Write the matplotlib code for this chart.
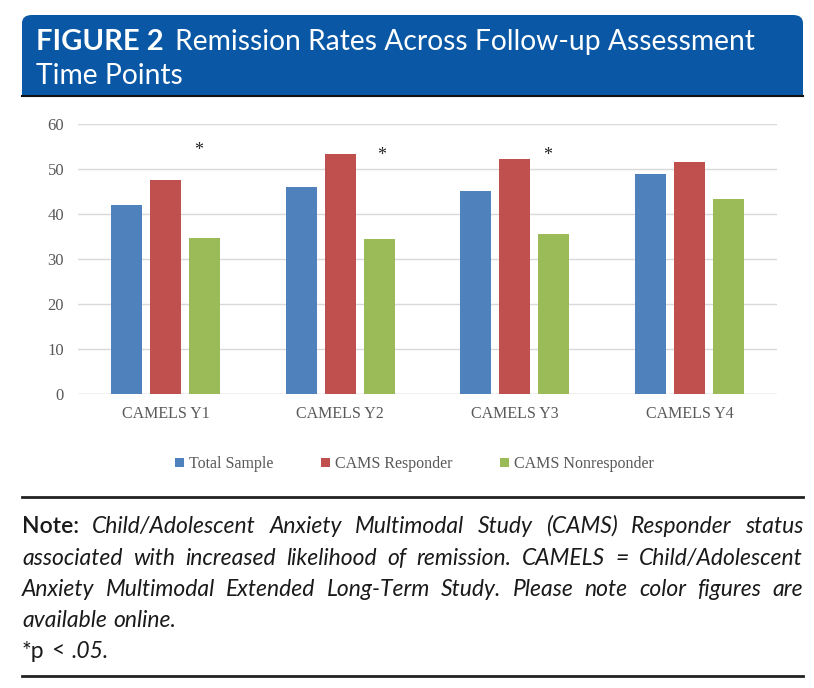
import matplotlib
matplotlib.use("Agg")
import matplotlib.pyplot as plt
from matplotlib.patches import FancyBboxPatch, Rectangle
from matplotlib.lines import Line2D
import numpy as np

categories = ["CAMELS Y1", "CAMELS Y2", "CAMELS Y3", "CAMELS Y4"]
series_names = ["Total Sample", "CAMS Responder", "CAMS Nonresponder"]
total_sample = [42.0, 46.0, 45.1, 48.9]
cams_responder = [47.6, 53.3, 52.2, 51.6]
cams_nonresponder = [34.7, 34.4, 35.5, 43.3]
significant = [True, True, True, False]
sig_mark_y = [54.2, 53.1, 53.1, None]
sig_mark_dx = [0.19, 0.24, 0.19, 0.0]
yticks = [0, 10, 20, 30, 40, 50, 60]
colors = ["#4f81bd", "#c0504d", "#9bbb59"]

title_bold = "FIGURE 2"
title_rest_1 = "Remission Rates Across Follow-up Assessment"
title_rest_2 = "Time Points"
# each line: list of (text, style, weight)
note_lines = [
    [("Note:", "normal", "semibold")] + [(w, "italic", "normal") for w in
        "Child/Adolescent Anxiety Multimodal Study (CAMS) Responder status".split()],
    [(w, "italic", "normal") for w in
        "associated with increased likelihood of remission. CAMELS = Child/Adolescent".split()],
    [(w, "italic", "normal") for w in
        "Anxiety Multimodal Extended Long-Term Study. Please note color figures are".split()],
    [(w, "italic", "normal") for w in "available online.".split()],
    [("*p", "normal", "normal"), ("<", "normal", "normal"), (".05.", "italic", "normal")],
]
justify = [True, True, True, False, False]

W, H = 814, 688
fig = plt.figure(figsize=(W / 100, H / 100), dpi=100)

head_font = "Lato"
note_font = "Lato"
serif = "Liberation Serif"


def fx(px):
    return px / W


def fy(py):
    return 1 - py / H


LEFT, RIGHT = 22, 803

# Header banner
blue = "#0a58a5"
banner = FancyBboxPatch((fx(LEFT), fy(95)), fx(RIGHT) - fx(LEFT), fy(15) - fy(95),
                        boxstyle="round,pad=0,rounding_size=0.012",
                        transform=fig.transFigure, facecolor=blue, edgecolor="none")
fig.patches.append(banner)
fig.patches.append(Rectangle((fx(LEFT), fy(95)), fx(RIGHT) - fx(LEFT), (fy(15) - fy(95)) / 2,
                             transform=fig.transFigure, facecolor=blue, edgecolor="none"))
fig.add_artist(Line2D([fx(LEFT), fx(RIGHT)], [fy(96), fy(96)], color="#111111", lw=1.5,
                      transform=fig.transFigure))

t1 = fig.text(fx(36), fy(50), title_bold, color="white", fontsize=21, fontweight="bold",
              family=head_font, va="baseline", ha="left")
fig.canvas.draw()
r = fig.canvas.get_renderer()
bb = t1.get_window_extent(r)
fig.text((bb.x1 + 11) / W, fy(50), title_rest_1, color="white", fontsize=20.3,
         family=head_font, va="baseline", ha="left")
fig.text(fx(36), fy(84), title_rest_2, color="white", fontsize=20.3,
         family=head_font, va="baseline", ha="left")

# Chart
ax = fig.add_axes([fx(78), fy(394), fx(777) - fx(78), fy(124) - fy(394)])
x = np.arange(len(categories))
bw = 0.177
step = 0.223
for i, (vals, c, name) in enumerate(zip([total_sample, cams_responder, cams_nonresponder],
                                        colors, series_names)):
    ax.bar(x + (i - 1) * step, vals, width=bw, color=c, label=name, zorder=3)
for xi, sig, sy, dx in zip(x, significant, sig_mark_y, sig_mark_dx):
    if sig:
        ax.text(xi + dx, sy, "*", ha="center", va="center", fontsize=13,
                family=serif, color="#222222")
ax.set_xlim(-0.5, len(categories) - 0.5)
ax.set_ylim(0, 60)
ax.set_yticks(yticks)
ax.set_xticks(x)
ax.set_xticklabels(categories)
ax.grid(axis="y", color="#d9d9d9", lw=1, zorder=0)
ax.tick_params(length=0, labelcolor="#595959")
ax.tick_params(axis="x", labelsize=11.5, pad=9)
ax.tick_params(axis="y", labelsize=12, pad=10)
for lab in ax.get_xticklabels() + ax.get_yticklabels():
    lab.set_family(serif)
for s in ax.spines.values():
    s.set_visible(False)
ax.axhline(0, color="#d9d9d9", lw=1, zorder=2)
leg = ax.legend(loc="center",
                bbox_to_anchor=(0.481, (fy(464) - fy(394)) / (fy(124) - fy(394))),
                ncol=3, frameon=False, prop={"family": serif, "size": 11.5},
                handlelength=0.55, handleheight=0.55, handletextpad=0.3,
                columnspacing=3.0, labelcolor="#595959")

# Note section
fig.add_artist(Line2D([fx(LEFT), fx(RIGHT)], [fy(497), fy(497)], color="#222222", lw=2,
                      transform=fig.transFigure))
fig.add_artist(Line2D([fx(LEFT), fx(RIGHT)], [fy(676), fy(676)], color="#222222", lw=2,
                      transform=fig.transFigure))

baselines = [533, 565, 596, 627, 658]
fs = 16.5
fig.canvas.draw()
r = fig.canvas.get_renderer()
for items, just, base in zip(note_lines, justify, baselines):
    arts = []
    for w, style, weight in items:
        a = fig.text(0, fy(base), w, fontsize=fs, family=note_font, style=style,
                     fontweight=weight, color="#1a1a1a", va="baseline", ha="left")
        arts.append(a)
    widths = [a.get_window_extent(r).width for a in arts]
    if just and len(arts) > 1:
        gap = (RIGHT - LEFT - sum(widths)) / (len(arts) - 1)
    else:
        gap = fs * 100 / 72 * 0.3
    cur = LEFT
    for a, wd in zip(arts, widths):
        a.set_x(fx(cur))
        cur += wd + gap

fig.savefig("out.png", dpi=100)
